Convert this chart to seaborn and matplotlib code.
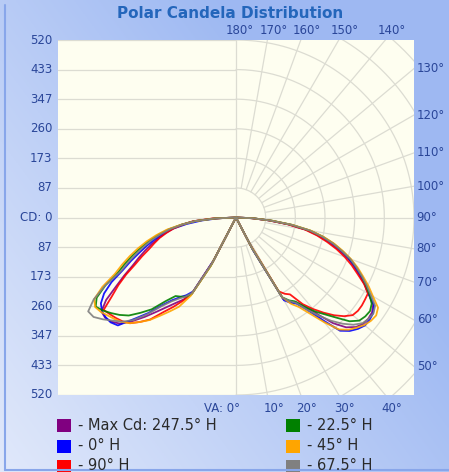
import numpy as np
import pandas as pd
import matplotlib
matplotlib.use("Agg")
import matplotlib.pyplot as plt
import seaborn as sns
from matplotlib.patches import Rectangle
from matplotlib.lines import Line2D

sns.set_style("white")
plt.rcParams['font.family'] = ['DejaVu Sans']

# vertical angle from nadir (deg), shared by every plane
va = [0, 26, 27.5, 30, 32.5, 35, 37.5, 40, 42.5, 45, 47.5, 50, 52.5, 55, 57.5, 60, 62.5,
      65, 67.5, 70, 72.5, 75, 77.5, 80, 82.5, 85, 87.5, 90]

# candela, right half (plane H) and left half (plane H+180)
purple_right = [0, 0, 105, 275, 292, 302, 330, 370, 420, 455, 475, 485, 487, 485, 475, 447, 423,
                398, 373, 348, 316, 283, 248, 210, 155, 95, 45, 0]
purple_left = [0, 0, 145, 255, 285, 305, 330, 360, 395, 430, 460, 475, 482, 480, 450, 405, 368,
               333, 307, 282, 258, 235, 212, 190, 160, 125, 65, 0]
blue_right = [0, 0, 110, 280, 296, 308, 340, 390, 450, 470, 483, 492, 492, 489, 478, 447, 425,
              400, 376, 350, 320, 290, 255, 212, 160, 100, 48, 0]
blue_left = [0, 0, 140, 250, 270, 285, 305, 335, 380, 420, 468, 478, 480, 478, 468, 445, 410,
             365, 332, 300, 272, 245, 215, 185, 145, 100, 50, 0]
red_right = [0, 0, 90, 250, 265, 275, 320, 350, 378, 405, 428, 445, 449, 449, 447, 445, 422,
             392, 366, 338, 308, 275, 242, 205, 152, 95, 45, 0]
red_left = [0, 0, 150, 255, 290, 320, 350, 390, 415, 438, 450, 458, 465, 472, 430, 397, 362,
            325, 297, 270, 250, 231, 208, 185, 155, 125, 70, 0]
green_right = [0, 0, 100, 270, 288, 300, 330, 360, 385, 415, 450, 470, 476, 478, 470, 450, 428,
               405, 381, 355, 325, 295, 260, 220, 165, 105, 50, 0]
green_left = [0, 0, 160, 260, 275, 283, 290, 320, 365, 395, 425, 444, 460, 475, 486, 470, 430,
              380, 350, 320, 290, 262, 232, 200, 160, 120, 60, 0]
orange_right = [0, 0, 95, 270, 300, 320, 355, 400, 445, 465, 478, 490, 497, 500, 492, 462, 437,
                410, 385, 358, 328, 297, 262, 222, 167, 105, 50, 0]
orange_left = [0, 0, 160, 265, 310, 335, 362, 392, 415, 438, 453, 463, 472, 482, 488, 478, 440,
               390, 360, 330, 300, 270, 238, 205, 162, 118, 60, 0]
grey_right = [0, 0, 100, 270, 290, 305, 340, 375, 410, 440, 465, 482, 488, 490, 482, 455, 430,
              405, 380, 355, 323, 292, 257, 218, 163, 100, 48, 0]
grey_left = [0, 0, 150, 255, 275, 290, 310, 340, 385, 425, 452, 470, 490, 508, 512, 480, 430,
             370, 340, 310, 282, 255, 225, 195, 157, 118, 60, 0]

planes = ["- Max Cd: 247.5° H", "- 0° H", "- 90° H", "- 22.5° H", "- 45° H", "- 67.5° H"]
plane_colors = ["#800080", "#0000ff", "#ff0000", "#008000", "#ffa500", "#808080"]
curves = [(purple_right, purple_left), (blue_right, blue_left), (red_right, red_left),
          (green_right, green_left), (orange_right, orange_left), (grey_right, grey_left)]

RMAX = 520
y_ticks = [520, 433, 347, 260, 173, 87, 0, -87, -173, -260, -347, -433, -520]
side_angles = [130, 120, 110, 100, 90, 80, 70, 60, 50]
top_angles = [180, 170, 160, 150, 140]
bottom_angles = [0, 10, 20, 30, 40]

LABEL_C = "#2a4699"
GRID_C = "#dcdcd2"


def build_frame():
    rows = []
    a = np.radians(va)
    for name, (right, left) in zip(planes, curves):
        r = np.array(right, float)
        for xx, yy in zip(r * np.sin(a), -r * np.cos(a)):
            rows.append((name, xx, yy))
        l = np.array(left, float)
        for xx, yy in zip((-l * np.sin(a))[::-1], (-l * np.cos(a))[::-1]):
            rows.append((name, xx, yy))
    return pd.DataFrame(rows, columns=["plane", "x", "y"])


fig = plt.figure(figsize=(4.49, 4.72), dpi=100)

# background gradient (light at bottom-left, blue at top-right)
bg = fig.add_axes([0, 0, 1, 1], zorder=-5)
u = np.linspace(0, 1, 200)[None, :]
v = np.linspace(0, 1, 200)[:, None]
f = np.clip(0.22 + 0.62 * u + 0.48 * (1 - v), 0, 1)
c0 = np.array([0.955, 0.965, 0.992])
c1 = np.array([0.62, 0.725, 0.95])
img = c0 + (c1 - c0) * f[..., None]
bg.imshow(img, aspect="auto", extent=[0, 1, 0, 1], origin="upper")
bg.axis("off")
fig.add_artist(Line2D([4.5 / 449, 4.5 / 449], [2 / 472, 1 - 5 / 472], color="#88a6ea", lw=1.5))
fig.add_artist(Line2D([4.5 / 449, 1], [2 / 472, 2 / 472], color="#88a6ea", lw=1.5))

ax = fig.add_axes([58 / 449, (472 - 395) / 472, 356 / 449, 355 / 472])
ax.set_facecolor("#fefef0")
ax.set_xlim(-RMAX, RMAX)
ax.set_ylim(-RMAX, RMAX)
ax.set_xticks([])
ax.set_yticks([])
for s in ax.spines.values():
    s.set_visible(False)

step = RMAX / 6
# left half: plain horizontal lines
for k in range(-6, 7):
    ax.plot([-RMAX, 0], [k * step, k * step], color=GRID_C, lw=0.9, zorder=1)
ax.plot([0, 0], [-RMAX, RMAX], color=GRID_C, lw=0.9, zorder=1)
# right half: polar rings and spokes
phi = np.linspace(-np.pi / 2, np.pi / 2, 200)
for k in range(1, 9):
    ax.plot(k * step * np.cos(phi), k * step * np.sin(phi), color=GRID_C, lw=0.9, zorder=1)
for t in range(10, 180, 10):
    tr = np.radians(t)
    ax.plot([step * np.sin(tr), 900 * np.sin(tr)], [-step * np.cos(tr), -900 * np.cos(tr)],
            color=GRID_C, lw=0.9, zorder=1)

df = build_frame()
sns.lineplot(data=df, x="x", y="y", hue="plane", hue_order=planes, palette=plane_colors,
             sort=False, estimator=None, lw=1.3, alpha=0.9, legend=False, ax=ax, zorder=3)
ax.set_xlabel("")
ax.set_ylabel("")

# axis labels
for val in y_ticks:
    txt = "CD: 0" if val == 0 else str(abs(val))
    ax.text(-RMAX - 16, val, txt, ha="right", va="center", fontsize=8.5, color=LABEL_C, clip_on=False)
for t in side_angles:
    yy = -RMAX / np.tan(np.radians(t))
    ax.text(RMAX + 8, yy, f"{t}°", ha="left", va="center", fontsize=8.5, color=LABEL_C, clip_on=False)
for t in top_angles:
    xx = -RMAX * np.tan(np.radians(t)) + (10 if t == 180 else 18)
    ax.text(xx, RMAX + 10, f"{t}°", ha="center", va="bottom", fontsize=8.5, color=LABEL_C, clip_on=False)
for t in bottom_angles:
    xx = RMAX * np.tan(np.radians(t))
    if t == 0:
        ax.text(12, -RMAX - 41, "VA: 0°", ha="right", va="center", fontsize=8.5, color=LABEL_C, clip_on=False)
    else:
        ax.text(xx + 18, -RMAX - 41, f"{t}°", ha="center", va="center", fontsize=8.5, color=LABEL_C, clip_on=False)

fig.text(230 / 449, 1 - 14 / 472, "Polar Candela Distribution", ha="center", va="center",
         fontsize=11, fontweight="bold", color="#2466bb")

# legend, two columns
col_x = [57, 286]
row_y = [425, 446, 466]
for i, (name, col) in enumerate(zip(planes, plane_colors)):
    cx = col_x[i // 3]
    cy = row_y[i % 3]
    fig.add_artist(Rectangle((cx / 449, 1 - (cy + 7) / 472), 14 / 449, 13 / 472,
                             facecolor=col, edgecolor="none", transform=fig.transFigure))
    fig.text((cx + 21) / 449, 1 - cy / 472, name, ha="left", va="center",
             fontsize=10.5, color="#2a2a2a")

fig.savefig("out.png", dpi=100)
